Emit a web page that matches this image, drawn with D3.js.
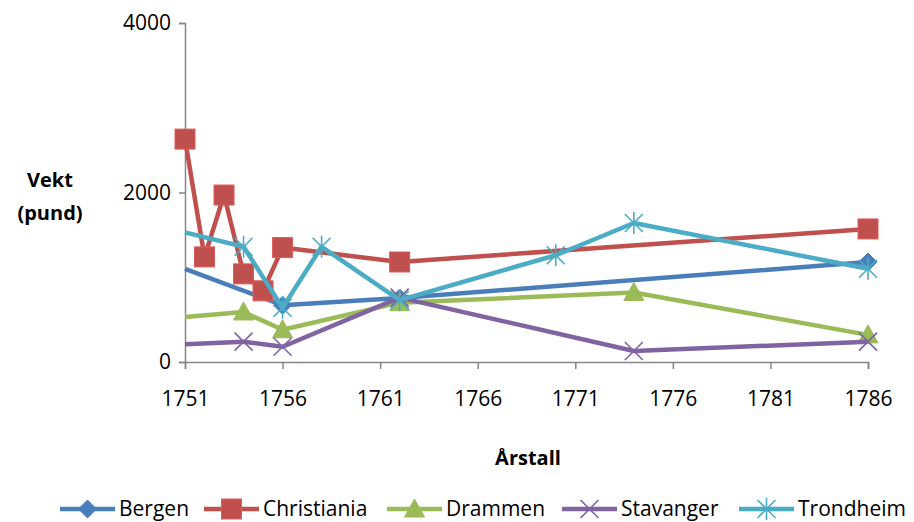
<!DOCTYPE html>
<html>
<head>
<meta charset="utf-8">
<script src="https://cdn.jsdelivr.net/npm/d3@7"></script>
<style>
  body { margin: 0; background: #fff; }
  svg { display: block; font-family: 'Open Sans', sans-serif; }
</style>
</head>
<body>
<div id="vis"></div>
<script>

var width = 914;
var height = 522;

// values
var seriesNames = ['Bergen', 'Christiania', 'Drammen', 'Stavanger', 'Trondheim'];
var seriesColors = ['#4A7EBB', '#C0504D', '#9BBB59', '#8064A2', '#4BACC6'];
var seriesShapes = ['diamond', 'square', 'triangle', 'x', 'star'];

var bergenYears = [1751, 1756, 1762, 1786];
var bergenValues = [1100, 670, 755, 1180];

var christianiaYears = [1751, 1752, 1753, 1754, 1755, 1756, 1762, 1786];
var christianiaValues = [2630, 1240, 1970, 1040, 840, 1350, 1180, 1570];

var drammenYears = [1751, 1754, 1756, 1762, 1774, 1786];
var drammenValues = [530, 590, 380, 700, 820, 320];

var stavangerYears = [1751, 1754, 1756, 1762, 1774, 1786];
var stavangerValues = [210, 240, 180, 760, 130, 240];

var trondheimYears = [1751, 1754, 1756, 1758, 1762, 1770, 1774, 1786];
var trondheimValues = [1530, 1360, 640, 1360, 730, 1260, 1640, 1100];

// series whose first point sits on the axis edge without a marker
var edgeStart = ['Bergen', 'Drammen', 'Stavanger', 'Trondheim'];

var xTicks = [1751, 1756, 1761, 1766, 1771, 1776, 1781, 1786];
var yTicks = [0, 2000, 4000];

var allYears = [bergenYears, christianiaYears, drammenYears, stavangerYears, trondheimYears];
var allValues = [bergenValues, christianiaValues, drammenValues, stavangerValues, trondheimValues];

var series = seriesNames.map(function(name, i) {
  return {
    name: name,
    color: seriesColors[i],
    shape: seriesShapes[i],
    points: allYears[i].map(function(y, j) { return { year: y, value: allValues[i][j], idx: j }; })
  };
});

var x = d3.scaleLinear().domain([1751, 1786]).range([185, 868]);
var y = d3.scaleLinear().domain([0, 4000]).range([362, 23]);

var svg = d3.select('#vis').append('svg')
  .attr('width', width)
  .attr('height', height);

var axisColor = '#868686';

// y axis
var yAxis = svg.append('g')
  .attr('transform', 'translate(' + x.range()[0] + ',0)')
  .call(d3.axisLeft(y).tickValues(yTicks).tickSize(6).tickPadding(8).tickFormat(d3.format('d')));
yAxis.select('.domain').attr('stroke', axisColor).attr('stroke-width', 1.5);
yAxis.selectAll('.tick line').attr('stroke', axisColor).attr('stroke-width', 1.5);
yAxis.selectAll('.tick text')
  .attr('font-size', 21).attr('fill', '#000').attr('font-family', "'Open Sans', sans-serif");

// x axis
var xAxis = svg.append('g')
  .attr('transform', 'translate(0,' + y(0) + ')')
  .call(d3.axisBottom(x).tickValues(xTicks).tickSize(7).tickPadding(22).tickFormat(d3.format('d')));
xAxis.select('.domain').attr('stroke', axisColor).attr('stroke-width', 1.5);
xAxis.selectAll('.tick line').attr('stroke', axisColor).attr('stroke-width', 1.5);
xAxis.selectAll('.tick text')
  .attr('font-size', 21).attr('fill', '#000').attr('font-family', "'Open Sans', sans-serif");

// axis titles
svg.append('text')
  .attr('x', 50).attr('y', 187)
  .attr('text-anchor', 'middle')
  .attr('font-size', 20).attr('font-weight', 'bold')
  .text('Vekt');
svg.append('text')
  .attr('x', 50).attr('y', 220)
  .attr('text-anchor', 'middle')
  .attr('font-size', 20).attr('font-weight', 'bold')
  .text('(pund)');
svg.append('text')
  .attr('x', 528).attr('y', 465)
  .attr('text-anchor', 'middle')
  .attr('font-size', 20).attr('font-weight', 'bold')
  .text('Årstall');

function drawMarker(g, shape, color, cx, cy) {
  var s = 9;
  if (shape === 'diamond') {
    g.append('path')
      .attr('d', 'M' + cx + ',' + (cy - s) + 'L' + (cx + s) + ',' + cy + 'L' + cx + ',' + (cy + s) + 'L' + (cx - s) + ',' + cy + 'Z')
      .attr('fill', color).attr('stroke', color).attr('stroke-width', 1);
  } else if (shape === 'square') {
    g.append('rect')
      .attr('x', cx - 10).attr('y', cy - 10).attr('width', 20).attr('height', 20)
      .attr('fill', color).attr('stroke', d3.color(color).brighter(0.4)).attr('stroke-width', 1);
  } else if (shape === 'triangle') {
    g.append('path')
      .attr('d', 'M' + cx + ',' + (cy - 10) + 'L' + (cx + 10) + ',' + (cy + 8) + 'L' + (cx - 10) + ',' + (cy + 8) + 'Z')
      .attr('fill', color).attr('stroke', color).attr('stroke-width', 1);
  } else if (shape === 'x') {
    g.append('path')
      .attr('d', 'M' + (cx - s) + ',' + (cy - s) + 'L' + (cx + s) + ',' + (cy + s) + 'M' + (cx + s) + ',' + (cy - s) + 'L' + (cx - s) + ',' + (cy + s))
      .attr('fill', 'none').attr('stroke', color).attr('stroke-width', 1.6);
  } else if (shape === 'star') {
    g.append('path')
      .attr('d', 'M' + (cx - s) + ',' + (cy - s) + 'L' + (cx + s) + ',' + (cy + s) + 'M' + (cx + s) + ',' + (cy - s) + 'L' + (cx - s) + ',' + (cy + s) +
        'M' + cx + ',' + (cy - s - 2) + 'L' + cx + ',' + (cy + s + 2))
      .attr('fill', 'none').attr('stroke', color).attr('stroke-width', 1.6);
  }
}

var line = d3.line()
  .x(function(d) { return x(d.year); })
  .y(function(d) { return y(d.value); });

series.forEach(function(s) {
  var g = svg.append('g').attr('class', 'series');
  g.append('path')
    .datum(s.points)
    .attr('d', line)
    .attr('fill', 'none')
    .attr('stroke', s.color)
    .attr('stroke-width', 4.5)
    .attr('stroke-linejoin', 'round');
  s.points.forEach(function(p) {
    if (p.idx === 0 && edgeStart.indexOf(s.name) >= 0) return;
    drawMarker(g, s.shape, s.color, x(p.year), y(p.value));
  });
});

// legend
var legendX = [60, 204, 387, 562, 739];
var legend = svg.append('g').attr('class', 'legend');
series.forEach(function(s, i) {
  var lg = legend.append('g').attr('transform', 'translate(' + legendX[i] + ',509)');
  lg.append('line')
    .attr('x1', 0).attr('x2', 55).attr('y1', 0).attr('y2', 0)
    .attr('stroke', s.color).attr('stroke-width', 4.5);
  drawMarker(lg, s.shape, s.color, 27.5, 0);
  lg.append('text')
    .attr('x', 59).attr('y', 0).attr('dy', '0.35em')
    .attr('font-size', 21)
    .text(s.name);
});

</script>
</body>
</html>
